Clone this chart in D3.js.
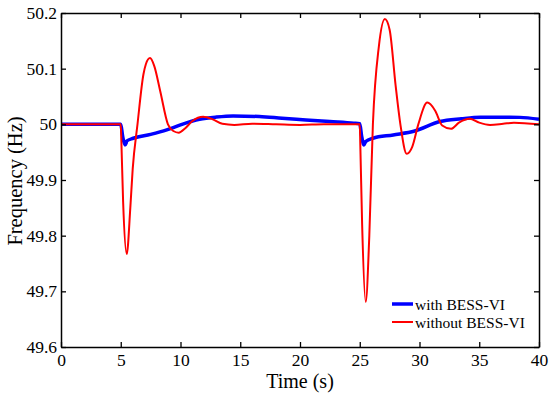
<!DOCTYPE html>
<html>
<head>
<meta charset="utf-8">
<script src="https://cdn.jsdelivr.net/npm/d3@7/dist/d3.min.js"></script>
<style>
body { margin: 0; background: #fff; }
</style>
</head>
<body>
<svg id="svg"></svg>
<script>
var width = 550, height = 398;
var serif = "Liberation Serif";

// time (s) and frequency (Hz)
var withTime = [0, 5.0, 5.15, 5.35, 5.45, 5.5, 6.05, 7.5, 8.85, 10, 11.6, 13, 14.4, 16.6, 18.5, 20.5, 22.5, 24.5, 25.0,
	25.15, 25.35, 25.5, 26.1, 27.8, 29.6, 31.7, 33.5, 35.1, 37, 38.4, 40];
var withFreq = [50, 50, 49.98, 49.963, 49.966, 49.970, 49.975, 49.982, 49.99, 49.999, 50.009, 50.013, 50.015, 50.014, 50.011, 50.008, 50.005, 50.002, 50.001,
	49.98, 49.963, 49.969, 49.975, 49.981, 49.988, 50.005, 50.01, 50.0127, 50.0127, 50.0125, 50.009];

var withoutTime = [0, 5.0, 5.05, 5.2, 5.5, 5.8, 6.0, 6.4, 6.9, 7.1, 7.45, 7.8, 8.3, 8.95, 9.4, 9.85, 10.4, 11.0, 11.9, 12.7, 13.5, 14.5, 16, 18, 20, 22, 24, 25,
	25.05, 25.2, 25.5, 25.8, 26.1, 26.6, 27.1, 27.5, 28.0, 28.4, 28.93, 29.4, 29.9, 30.65, 31.3, 31.9, 32.64, 33.3, 34.2, 35.0, 35.9, 37.0, 37.9, 40];
var withoutFreq = [50, 50, 49.97, 49.86, 49.767, 49.85, 49.92, 50.0, 50.09, 50.108, 50.119, 50.105, 50.06, 50.0, 49.988, 49.985, 49.993, 50.006, 50.0135, 50.009, 50.001, 49.999, 50.001, 50.0, 49.999, 50.0, 50.0, 50.0,
	49.96, 49.82, 49.681, 49.80, 50.0, 50.14, 50.189, 50.17, 50.07, 50.0, 49.947, 49.96, 50.0, 50.039, 50.025, 49.998, 49.992, 50.003, 50.010, 50.003, 49.999, 50.001, 50.003, 50.0];

var xTicks = [0, 5, 10, 15, 20, 25, 30, 35, 40];
var yTicks = [49.6, 49.7, 49.8, 49.9, 50, 50.1, 50.2];
var seriesNames = ["with BESS-VI", "without BESS-VI"];

var svg = d3.select("#svg")
	.attr("width", width)
	.attr("height", height);

var x = d3.scaleLinear().domain([0, 40]).range([61, 539]);
var y = d3.scaleLinear().domain([49.6, 50.2]).range([347, 13]);

function pts(ts, fs) {
	return ts.map(function(t, i) { return [x(t), y(fs[i])]; });
}

var line = d3.line().curve(d3.curveMonotoneX);

svg.append("path")
	.attr("fill", "none")
	.attr("stroke", "#0000ff")
	.attr("stroke-width", 3.5)
	.attr("stroke-linejoin", "round")
	.attr("d", line(pts(withTime, withFreq)));

svg.append("path")
	.attr("fill", "none")
	.attr("stroke", "#ff0000")
	.attr("stroke-width", 2)
	.attr("stroke-linejoin", "round")
	.attr("d", line(pts(withoutTime, withoutFreq)));

var fmt = function(d) { return String(+d.toFixed(1)); };

var axes = [
	[d3.axisBottom(x).tickValues(xTicks).tickFormat(d3.format("d")).tickPadding(7), "translate(0,347)"],
	[d3.axisTop(x).tickValues(xTicks).tickFormat(""), "translate(0,13)"],
	[d3.axisLeft(y).tickValues(yTicks).tickFormat(fmt).tickPadding(4), "translate(61,0)"],
	[d3.axisRight(y).tickValues(yTicks).tickFormat(""), "translate(539,0)"]
];
axes.forEach(function(a) {
	var g = svg.append("g")
		.attr("transform", a[1])
		.call(a[0].tickSizeInner(-5).tickSizeOuter(0))
		.attr("font-family", serif)
		.attr("font-size", 17.5);
	g.select(".domain").attr("stroke", "#000").attr("stroke-width", 1.5);
	g.selectAll(".tick line").attr("stroke", "#000").attr("stroke-width", 1.3);
	g.selectAll("text").attr("fill", "#000");
});

// legend
var legend = svg.append("g");
var colors = ["#0000ff", "#ff0000"];
var widths = [3.5, 2];
seriesNames.forEach(function(name, i) {
	legend.append("line")
		.attr("x1", 392).attr("x2", 413)
		.attr("y1", 304 + i * 18).attr("y2", 304 + i * 18)
		.attr("stroke", colors[i])
		.attr("stroke-width", widths[i]);
	legend.append("text")
		.attr("x", 415)
		.attr("y", 309.5 + i * 18)
		.attr("font-family", serif)
		.attr("font-size", "15.5px")
		.text(name);
});

svg.append("text")
	.attr("x", 300)
	.attr("y", 388)
	.attr("text-anchor", "middle")
	.attr("font-family", serif)
	.attr("font-size", "20px")
	.text("Time (s)");

svg.append("text")
	.attr("transform", "translate(22,181) rotate(-90)")
	.attr("text-anchor", "middle")
	.attr("font-family", serif)
	.attr("font-size", "20.5px")
	.text("Frequency (Hz)");
</script>
</body>
</html>
